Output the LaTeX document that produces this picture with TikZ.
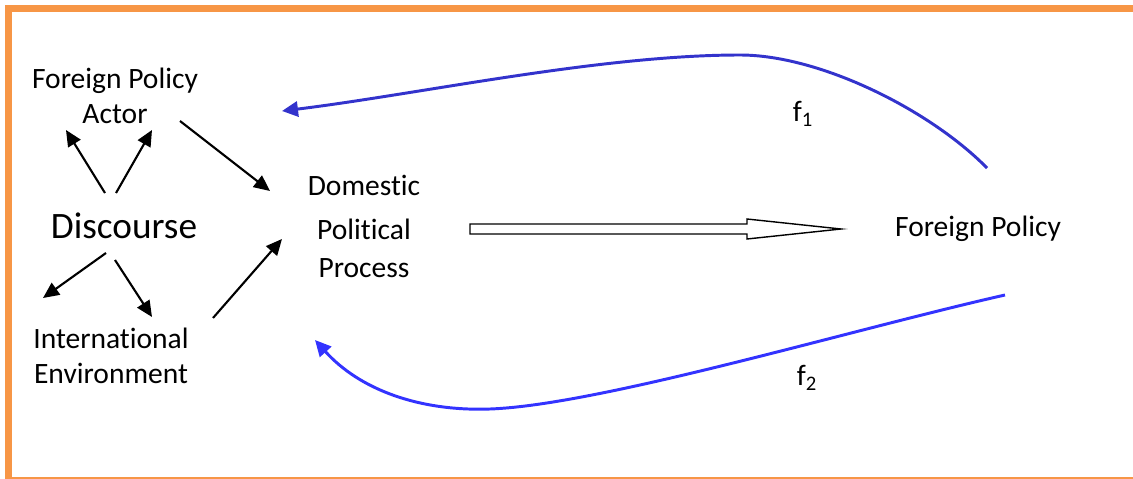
\documentclass[tikz,border=0pt]{standalone}
\usepackage{fontspec}
\setmainfont[Ligatures={NoCommon}]{Carlito}
\usetikzlibrary{arrows.meta,calc}
\definecolor{frameorange}{RGB}{247,150,70}
\definecolor{loopblue}{RGB}{51,51,204}
\definecolor{backblue}{RGB}{51,51,255}
\begin{document}
\begin{tikzpicture}[x=0.025cm, y=-0.025cm,
	lbl/.style={align=center, inner sep=0pt, font=\fontsize{21}{25}\selectfont},
	big/.style={inner sep=0pt, font=\fontsize{26.5}{30}\selectfont},
	blk/.style={line width=1.5pt, -{Triangle[length=0.4cm, width=0.36cm]}},
	fb/.style={line width=2.1pt, -{Triangle[length=0.4cm, width=0.38cm]}},
	hollow/.style={draw=black, fill=white, line width=1pt, line join=miter}]
	\useasboundingbox (0,0) rectangle (1133,479);
	%frame
	\fill[frameorange] (5,5) rectangle (1133,12);
	\fill[frameorange] (5,5) rectangle (12,479);
	\fill[frameorange] (12,476.5) rectangle (1133,478.5);
	%nodes
	\node[lbl] (actor) at (115,96) {Foreign Policy\\Actor};
	\node[big] (disc) at (124,226) {Discourse};
	\node[lbl] (intl) at (111,356) {International\\Environment};
	\node[lbl, font=\fontsize{21}{27}\selectfont] (dom) at (364,226) {Domestic\\[4.3pt]Political\\Process};
	\node[lbl] (fp) at (978,229) {Foreign Policy};
	\node[lbl] (f1) at (803,114) {f\textsubscript{1}};
	\node[lbl] (f2) at (807,378) {f\textsubscript{2}};
	%arrows
	\draw[blk] ([shift={(-19,-33)}]disc.center) -- ([shift={(-49,34)}]actor.center);
	\draw[blk] ([shift={(-8,-33)}]disc.center) -- ([shift={(37,34)}]actor.center);
	\draw[blk] ([shift={(65,25)}]actor.center) -- ([shift={(-94,-35)}]dom.center);
	\draw[blk] ([shift={(-18,27)}]disc.center) -- ([shift={(-68,-58)}]intl.center);
	\draw[blk] ([shift={(-9,34)}]disc.center) -- ([shift={(41,-39)}]intl.center);
	\draw[blk] ([shift={(102,-38)}]intl.center) -- ([shift={(-82,13)}]dom.center);
	%big arrow
	\coordinate (ha) at ([shift={(106,3)}]dom.center);
	\coordinate (hb) at ([shift={(-137,0)}]fp.center);
	\draw[hollow] ($(ha)+(0,-5)$) -- ($(hb)+(-94,-5)$) -- ($(hb)+(-94,-10)$) -- (hb)
	-- ($(hb)+(-94,10)$) -- ($(hb)+(-94,5)$) -- ($(ha)+(0,5)$) -- cycle;
	%feedback
	\draw[fb, loopblue] ([shift={(9,-61)}]fp.center) .. controls (930,110) and (820,55) .. (740,55)
	.. controls (600,55) and (420,94) .. ([shift={(167,15)}]actor.center);
	\draw[fb, backblue] ([shift={(27,66)}]fp.center) .. controls (850,330) and (600,405) .. (490,409)
	.. controls (420,411.5) and (360,390) .. ([shift={(-49,114)}]dom.center);
\end{tikzpicture}
\end{document}
